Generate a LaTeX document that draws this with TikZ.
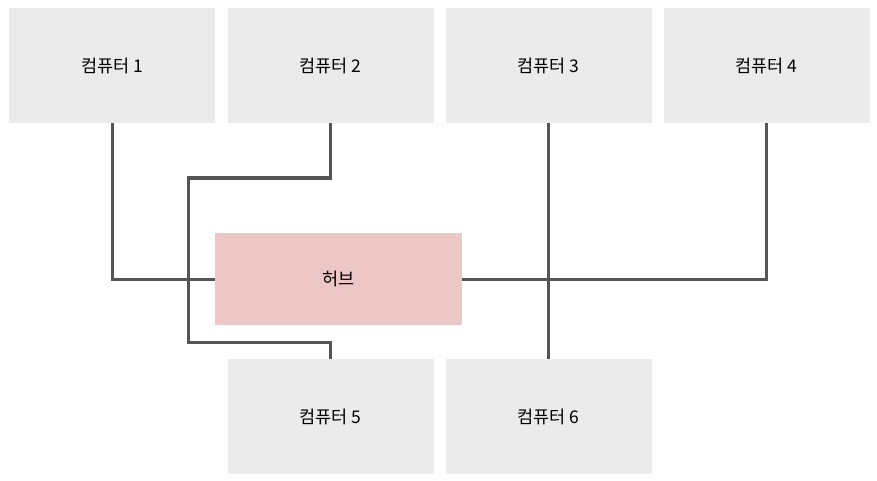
\documentclass[tikz,border=0pt]{standalone}
\usepackage{fontspec}
\setmainfont{Noto Sans CJK KR}
\begin{document}
\begin{tikzpicture}[x=1pt,y=-1pt,
  pc/.style={fill=boxgray,draw=none,minimum width=206pt,minimum height=115pt,inner sep=0pt,font=\fontsize{17.5}{20}\selectfont},
  hubbox/.style={fill=hubpink,draw=none,minimum width=247pt,minimum height=92pt,inner sep=0pt,font=\fontsize{17.5}{20}\selectfont},
  wire/.style={draw=wiregray,line width=3pt,line join=miter}]
\definecolor{boxgray}{HTML}{EBEBEB}
\definecolor{hubpink}{HTML}{EDC6C6}
\definecolor{wiregray}{HTML}{555555}
\useasboundingbox (0,0) rectangle (877,481);
\node[pc] (c1) at (112,65.5) {컴퓨터 1};
\node[pc] (c2) at (330.5,65.5) {컴퓨터 2};
\node[pc] (c3) at (548.5,65.5) {컴퓨터 3};
\node[pc] (c4) at (766.5,65.5) {컴퓨터 4};
\node[pc] (c5) at (330.5,416.5) {컴퓨터 5};
\node[pc] (c6) at (548.5,416.5) {컴퓨터 6};
\coordinate (k1) at (188,178);
\coordinate (k2) at (188,342);
\draw[wire] (c1.south) |- (215,279) coordinate (hl);
\draw[wire] (c2.south) |- (k1) -- (k2) -| (c5.north);
\draw[wire] (c3.south) -- (c6.north);
\draw[wire] (c4.south) |- (462,279) coordinate (hr);
\node[hubbox] (hub) at (338.5,279) {허브};
\end{tikzpicture}
\end{document}
